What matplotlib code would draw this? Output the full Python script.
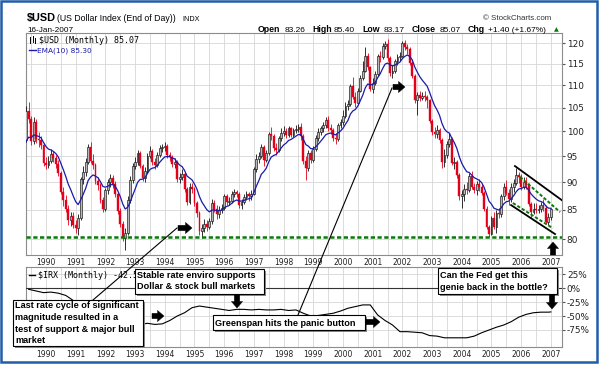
import numpy as np
import pandas as pd
import matplotlib
matplotlib.use("Agg")
import matplotlib.pyplot as plt
from matplotlib.patches import Rectangle, Polygon
from matplotlib.ticker import FixedLocator, FixedFormatter, NullLocator

# ---------------- data ----------------
start_month = "1989-01-01"
first_open = 92.5
usd_close = [
    96.0, 95.4, 97.8, 98.2, 104.2, 102.5, 98.0, 102.0, 98.5, 98.3, 97.2, 93.6,
    93.2, 94.0, 95.5, 94.6, 93.5, 91.8, 88.2, 86.8, 85.2, 83.2, 84.0, 82.3,
    81.8, 83.6, 90.6, 92.0, 93.8, 96.8, 94.0, 93.2, 90.2, 89.4, 86.8, 85.2,
    88.5, 90.0, 90.8, 89.6, 87.8, 84.8, 82.6, 80.2, 81.0, 86.8, 90.5, 93.0,
    93.8, 95.6, 93.0, 90.8, 92.2, 95.0, 96.0, 93.8, 93.2, 95.2, 96.6, 96.8,
    97.0, 95.2, 94.8, 93.4, 93.8, 90.6, 91.0, 91.6, 88.8, 86.4, 89.2, 88.8,
    86.2, 84.4, 81.4, 81.8, 82.6, 82.0, 83.0, 86.2, 85.2, 84.2, 84.9, 85.4,
    87.4, 86.4, 86.6, 87.8, 88.2, 87.8, 85.8, 86.4, 87.2, 87.8, 87.4, 87.9,
    92.4, 94.5, 95.0, 96.8, 94.3, 95.6, 99.4, 99.0, 96.6, 96.2, 98.6, 99.6,
    100.0, 99.2, 100.6, 99.3, 100.2, 100.4, 101.0, 99.0, 94.0, 92.6, 95.6, 94.2,
    96.4, 98.6, 99.8, 100.6, 101.4, 102.4, 100.6, 100.2, 98.6, 98.4, 101.4, 101.9,
    103.2, 105.4, 105.8, 109.8, 107.4, 106.0, 108.8, 111.8, 113.4, 116.8, 114.2, 109.2,
    110.6, 112.6, 116.8, 116.6, 119.4, 119.8, 116.4, 112.8, 113.4, 115.6, 116.6, 117.0,
    120.2, 119.2, 118.6, 115.2, 112.2, 106.6, 107.8, 107.2, 107.6, 107.4, 106.6, 102.2,
    99.8, 99.4, 100.2, 98.2, 93.8, 95.2, 97.4, 98.4, 93.6, 93.8, 91.4, 87.4,
    87.8, 88.8, 88.6, 91.2, 89.2, 88.6, 89.6, 89.2, 88.0, 85.2, 82.0, 80.9,
    83.6, 82.0, 84.4, 84.2, 87.4, 89.2, 88.0, 87.0, 89.2, 89.9, 91.4, 91.0,
    89.2, 90.0, 89.4, 86.0, 84.6, 85.2, 85.0, 85.2, 85.8, 85.4, 82.9, 83.7,
    85.07,
]
usd_high = [
    97.0, 96.8, 98.6, 99.0, 105.4, 106.2, 103.2, 103.0, 102.6, 99.8, 99.0, 97.6,
    94.8, 95.0, 96.4, 96.0, 95.2, 94.2, 92.2, 89.2, 87.6, 85.8, 84.6, 84.6,
    83.2, 84.2, 91.0, 93.0, 94.6, 97.4, 97.8, 95.4, 93.6, 91.0, 89.8, 87.2,
    89.0, 90.6, 91.6, 91.4, 90.2, 88.2, 85.4, 83.0, 81.8, 87.4, 91.2, 93.6,
    94.8, 96.2, 96.0, 93.4, 92.8, 95.6, 97.0, 96.4, 94.6, 95.8, 97.2, 97.4,
    97.8, 97.4, 95.8, 95.2, 94.6, 94.2, 91.8, 92.4, 92.0, 89.2, 89.8, 89.8,
    89.2, 86.6, 84.8, 82.6, 83.4, 83.2, 83.6, 87.0, 86.8, 85.8, 85.6, 86.0,
    87.8, 87.8, 87.2, 88.4, 88.8, 88.6, 88.2, 87.0, 87.8, 88.4, 88.2, 88.6,
    92.8, 95.4, 95.8, 97.4, 97.2, 96.2, 99.8, 101.0, 99.4, 97.6, 99.0, 100.6,
    101.2, 100.6, 101.2, 101.0, 100.8, 101.4, 101.6, 101.8, 99.4, 95.0, 96.2, 96.2,
    97.0, 99.2, 100.6, 101.2, 102.0, 103.0, 103.2, 101.6, 100.8, 99.6, 101.8, 102.6,
    104.6, 106.2, 106.8, 110.4, 112.0, 108.4, 109.4, 112.4, 115.8, 119.0, 117.6, 114.6,
    111.8, 113.4, 117.4, 118.0, 120.0, 120.6, 121.0, 116.8, 114.8, 116.2, 117.4, 117.8,
    120.6, 120.8, 119.8, 119.2, 115.6, 112.6, 108.4, 108.8, 108.6, 108.8, 107.8, 107.0,
    102.6, 101.0, 101.4, 100.8, 98.6, 96.4, 98.0, 99.6, 98.8, 94.8, 94.2, 91.8,
    88.6, 89.6, 90.0, 91.8, 92.2, 89.8, 90.2, 90.6, 89.6, 88.4, 85.6, 82.4,
    84.0, 84.6, 85.0, 85.4, 87.8, 89.8, 90.4, 88.8, 89.8, 90.6, 92.6, 92.0,
    91.6, 91.0, 91.0, 89.8, 86.4, 86.2, 86.2, 85.8, 86.4, 87.0, 85.8, 84.4,
    85.40,
]
usd_low = [
    92.2, 94.6, 95.0, 96.8, 97.8, 101.8, 97.2, 97.5, 97.6, 96.8, 96.4, 93.0,
    92.4, 92.6, 93.6, 93.8, 92.6, 91.2, 87.8, 85.6, 84.6, 82.4, 82.2, 81.8,
    81.0, 80.6, 83.2, 89.6, 91.2, 93.4, 93.6, 92.4, 89.6, 88.6, 86.2, 84.6,
    84.8, 87.8, 89.2, 89.0, 87.2, 84.2, 82.0, 79.6, 78.2, 80.6, 86.2, 89.8,
    92.4, 93.2, 92.6, 90.2, 90.0, 91.8, 94.6, 93.2, 92.4, 92.8, 94.8, 95.8,
    96.0, 94.6, 94.0, 92.8, 92.6, 90.0, 89.8, 90.4, 88.2, 85.8, 86.0, 88.0,
    85.6, 83.8, 80.6, 80.2, 81.2, 81.4, 81.6, 82.6, 84.6, 83.4, 83.6, 84.4,
    85.0, 85.8, 85.8, 86.2, 87.2, 87.2, 85.4, 85.2, 86.0, 86.8, 86.6, 86.8,
    87.6, 92.0, 93.6, 94.6, 93.0, 93.8, 95.2, 98.2, 96.0, 95.2, 95.8, 98.0,
    99.0, 98.6, 98.8, 98.8, 98.8, 99.6, 99.8, 98.2, 93.4, 90.4, 92.2, 93.6,
    93.8, 96.0, 98.0, 99.2, 99.8, 100.8, 100.0, 99.4, 98.0, 97.4, 98.0, 100.6,
    101.4, 102.8, 104.6, 105.4, 107.0, 105.2, 105.6, 108.4, 111.2, 113.0, 113.6, 108.8,
    108.2, 110.0, 112.2, 115.4, 116.2, 118.6, 115.8, 112.2, 111.6, 112.8, 114.8, 115.8,
    116.6, 118.4, 117.4, 114.8, 111.6, 106.0, 103.4, 106.4, 106.6, 106.4, 105.0, 101.8,
    99.2, 98.6, 98.6, 97.6, 92.6, 92.8, 94.6, 96.8, 93.2, 92.4, 90.8, 86.8,
    85.4, 86.6, 87.8, 88.2, 88.8, 88.0, 87.6, 88.4, 87.6, 84.8, 81.6, 80.4,
    80.6, 81.6, 81.0, 83.6, 83.8, 86.8, 87.6, 85.8, 86.4, 88.2, 89.4, 89.8,
    88.6, 88.8, 88.8, 85.6, 83.6, 84.2, 84.4, 84.4, 84.6, 84.8, 82.6, 82.4,
    83.17,
]

irx_start = "1989-06-01"
irx_pct = [
    -2, -5, -8,
    -7, -9, -13, -22,
    -30, -34, -40, -52,
    -53, -57, -65, -62,
    -65, -63, -65, -64,
    -58, -50, -44, -35,
    -32, -34, -36, -38,
    -40, -38, -38, -39,
    -38, -39, -39, -38,
    -40, -39, -45, -50,
    -49, -47, -45, -41,
    -36, -33, -30, -30,
    -48, -58, -66, -78,
    -78, -79, -80, -85,
    -86, -89, -89, -89,
    -89, -86, -80, -75,
    -70, -66, -60, -52,
    -47, -44, -43, -43,
    -42.57,
]

years = list(range(1990, 2008))
price_ticks = [80, 85, 90, 95, 100, 105, 110, 115, 120]
pct_ticks = [25, 0, -25, -50, -75]
support_level = 80.33
channel_upper = ([2005.79, 2007.41], [93.06, 86.55])
channel_lower = ([2005.66, 2007.14], [85.83, 80.83])
channel_upper_g = ([2005.96, 2007.31], [91.0, 84.6])
channel_lower_g = ([2005.72, 2007.07], [86.2, 81.8])

# ---------------- figure ----------------
plt.rcParams['font.family'] = ['DejaVu Sans']
W, H = 600, 368
fig = plt.figure(figsize=(W / 100, H / 100), dpi=100)
fig.patch.set_facecolor('white')


def rect(x0, y0, x1, y1):
    return [x0 / W, 1 - y1 / H, (x1 - x0) / W, (y1 - y0) / H]


ax = fig.add_axes(rect(26, 33, 562, 255))
ax2 = fig.add_axes(rect(26, 267, 562, 347))

dates = pd.date_range(start_month, periods=len(usd_close), freq='MS')
t = np.asarray(dates.year + (dates.month - 1) / 12.0, float)
closes = np.array(usd_close, float)
opens = np.array([first_open] + usd_close[:-1], float)
highs = np.array(usd_high, float)
lows = np.array(usd_low, float)
body_lo = np.minimum(opens, closes)
body_hi = np.maximum(opens, closes)
wick_hi = np.maximum(highs, body_hi)
wick_lo = np.minimum(lows, body_lo)
up = closes >= opens
RED = '#e3001b'

ax.vlines(t[up], wick_lo[up], wick_hi[up], color='#111111', lw=0.6, zorder=3)
ax.vlines(t[~up], wick_lo[~up], wick_hi[~up], color=RED, lw=0.6, zorder=3)
ax.bar(t[up], body_hi[up] - body_lo[up], bottom=body_lo[up], width=0.062,
       color='#b8b8b8', edgecolor='#111111', lw=0.45, zorder=4)
ax.bar(t[~up], body_hi[~up] - body_lo[~up], bottom=body_lo[~up], width=0.062,
       color=RED, edgecolor=RED, lw=0.3, zorder=4)

ema = pd.Series(closes).ewm(span=10, adjust=False).mean().values
ax.plot(t, ema, color='#1a1aa8', lw=0.9, zorder=5)

dash = (0, (1.7, 1.0))
ax.axhline(support_level, color='#0a7a0a', lw=1.8, ls=dash, zorder=6)
ax.plot(*channel_upper, color='black', lw=1.3, zorder=6)
ax.plot(*channel_lower, color='black', lw=1.3, zorder=6)
ax.plot(*channel_upper_g, color='#0a7a0a', lw=1.4, ls=dash, zorder=6)
ax.plot(*channel_lower_g, color='#0a7a0a', lw=1.4, ls=dash, zorder=6)

XL = (1989.327, 2007.374)
half_years = [y + 0.5 for y in range(1989, 2007)]
for a in (ax, ax2):
    a.set_xlim(*XL)
    a.xaxis.set_major_locator(FixedLocator(years))
    a.xaxis.set_major_formatter(FixedFormatter([str(y) for y in years]))
    a.xaxis.set_minor_locator(FixedLocator(half_years))
    a.tick_params(axis='x', which='both', length=0, labelsize=5.5, pad=2.5,
                  labelcolor='#222222')
    a.grid(axis='x', which='both', color='#d6d6d6', lw=0.6)
    a.grid(axis='y', which='major', color='#d6d6d6', lw=0.6)
    a.set_axisbelow(True)
    a.yaxis.tick_right()
    a.tick_params(axis='y', which='both', direction='out', length=2, pad=1.5,
                  labelsize=6.4, labelcolor='#222222', color='#555555')
    for s in a.spines.values():
        s.set_color('#8c8c8c')
        s.set_linewidth(0.8)

ax.set_yscale('log')
ax.set_ylim(77.4, 122.6)
ax.yaxis.set_major_locator(FixedLocator(price_ticks))
ax.yaxis.set_major_formatter(FixedFormatter([str(v) for v in price_ticks]))
ax.yaxis.set_minor_locator(NullLocator())

irx_dates = list(pd.date_range(irx_start, periods=len(irx_pct) - 1, freq='3MS'))
irx_dates.append(pd.Timestamp('2007-01-01'))
irx_t = np.array([d.year + (d.month - 1) / 12.0 for d in irx_dates])
ax2.plot(irx_t, irx_pct, color='black', lw=0.8, zorder=4)
ax2.axhline(0, color='#333333', lw=0.8, zorder=3)
ax2.set_ylim(-105.5, 38)
ax2.yaxis.set_major_locator(FixedLocator(pct_ticks))
ax2.yaxis.set_major_formatter(FixedFormatter([f"{v}%" for v in pct_ticks]))

# ---------------- overlay (pixel coordinates) ----------------
ov = fig.add_axes([0, 0, 1, 1], zorder=10)
ov.set_xlim(0, W)
ov.set_ylim(H, 0)
ov.axis('off')
ov.patch.set_alpha(0)

ARIAL = 'Liberation Sans'
MONO = 'DejaVu Sans Mono'

ov.text(27, 21, "\\$USD", fontsize=7.8, fontweight='bold', family=ARIAL, va='baseline')
ov.text(57, 21, "(US Dollar Index (End of Day))", fontsize=6.3, family=ARIAL, va='baseline')
ov.text(182, 21, "INDX", fontsize=5.2, family=ARIAL, va='baseline')
ov.text(27, 31.5, "16-Jan-2007", fontsize=5.9, family=ARIAL, va='baseline')
ov.text(483, 20.5, "\u00a9 StockCharts.com", fontsize=5.7, family=ARIAL, va='baseline',
        color='#333333')

hdr = [("Open", 258, True), ("83.26", 285, False), ("High", 312, True), ("85.40", 334, False),
       ("Low", 362, True), ("83.17", 384, False), ("Close", 412, True), ("85.07", 440, False),
       ("Chg", 468, True), ("+1.40 (+1.67%)", 488, False)]
for s, x, b in hdr:
    ov.text(x, 31.8, s, fontsize=6.3 if b else 6.0, family=ARIAL,
            fontweight='bold' if b else 'normal', va='baseline')
ov.text(554, 31.5, "\u25b2", fontsize=4.5, color='#007a00', va='baseline', family='DejaVu Sans')

# legends
for xx, y0, y1 in [(30, 37, 43), (32.5, 36, 42), (35, 38, 43)]:
    ov.plot([xx, xx], [y0, y1], color='black', lw=0.7)
ov.text(39, 43, "\\$USD (Monthly) 85.07", fontsize=6.0, family=MONO, va='baseline')
ov.plot([29, 36], [49.5, 49.5], color='#1a1aa8', lw=1.0)
ov.text(37, 52.5, "EMA(10) 85.30", fontsize=5.3, color='#1a1aa8', va='baseline')
ov.plot([29, 35], [275, 275], color='black', lw=1.0)
ov.text(38, 278, "\\$IRX (Monthly) -42.57%", fontsize=6.0, family=MONO, va='baseline')


def block_arrow(x0, y0, x1, y1, shaft=2.7, head=5.6, hl=6.5):
    d = np.array([x1 - x0, y1 - y0], float)
    L = np.hypot(*d)
    u = d / L
    n = np.array([-u[1], u[0]])
    p0 = np.array([x0, y0], float)
    pb = p0 + u * (L - hl)
    pts = [p0 + n * shaft, pb + n * shaft, pb + n * head, p0 + u * L,
           pb - n * head, pb - n * shaft, p0 - n * shaft]
    ov.add_patch(Polygon(pts, closed=True, fc='black', ec='black', lw=0.3, zorder=12))


def note_box(x0, y0, x1, y1, lines, tx, baselines):
    ov.add_patch(Rectangle((x0 + 2, y0 + 2), x1 - x0, y1 - y0, fc='#8a8a8a', ec='none', zorder=11))
    ov.add_patch(Rectangle((x0, y0), x1 - x0, y1 - y0, fc='white', ec='black', lw=0.8, zorder=11))
    for s, b in zip(lines, baselines):
        ov.text(tx, b, s, fontsize=6.6, fontweight='bold', family=ARIAL, va='baseline', zorder=13)


# leader lines
ov.plot([93, 177], [300, 228], color='black', lw=0.8, zorder=11)
ov.plot([298, 392], [315, 88], color='black', lw=0.8, zorder=11)

note_box(135, 268.5, 264, 293.5, ["Stable rate enviro supports", "Dollar & stock bull markets"],
         137, [277.6, 289.0])
note_box(12.7, 299.5, 143, 346, ["Last rate cycle of significant", "magnitude resulted in a",
                                 "test of support & major bull", "market"],
         15, [308.5, 320.0, 331.5, 343.0])
note_box(212.5, 315, 365, 329.5, ["Greenspan hits the panic button"], 215, [326.0])
note_box(437.7, 268, 557, 293.5, ["Can the Fed get this", "genie back in the bottle?"],
         440, [278.0, 289.5])

block_arrow(178, 228, 192, 228)
block_arrow(393, 87, 405, 87)
block_arrow(553, 255, 553, 242)
block_arrow(152, 316, 164, 316)
block_arrow(237, 295, 237, 308)
block_arrow(366, 322, 380, 322)
block_arrow(552, 295, 552, 309)

# outer blue frame
ov.add_patch(Rectangle((1.2, 0.9), 595.3, 361.1, fill=False, ec='#1f5fa8', lw=1.8, zorder=20))

fig.savefig("out.png", dpi=100, facecolor='white')
